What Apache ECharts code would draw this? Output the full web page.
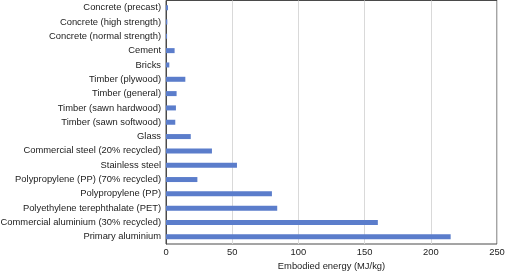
<!DOCTYPE html>
<html><head><meta charset="utf-8">
<script src="https://cdn.jsdelivr.net/npm/echarts@6/dist/echarts.min.js"></script>
<style>html,body{margin:0;padding:0;background:#fff}#c{width:506px;height:273px}</style>
</head><body><div id="c"></div>
<script>
const categories = [
  "Concrete (precast)",
  "Concrete (high strength)",
  "Concrete (normal strength)",
  "Cement",
  "Bricks",
  "Timber (plywood)",
  "Timber (general)",
  "Timber (sawn hardwood)",
  "Timber (sawn softwood)",
  "Glass",
  "Commercial steel (20% recycled)",
  "Stainless steel",
  "Polypropylene (PP) (70% recycled)",
  "Polypropylene (PP)",
  "Polyethylene terephthalate (PET)",
  "Commercial aluminium (30% recycled)",
  "Primary aluminium"
];
const energy = [1.5, 1.0, 0.8, 6.5, 2.5, 14.6, 8, 7.5, 7, 18.7, 34.7, 53.6, 23.7, 80, 84, 160, 215];
const xTicks = [0, 50, 100, 150, 200, 250];
const xName = "Embodied energy (MJ/kg)";

const chart = echarts.init(document.getElementById('c'), null, {renderer: 'canvas'});
chart.setOption({
  animation: false,
  grid: {left: 166, right: 9, top: 0.5, bottom: 29, show: true, borderColor: '#4a4a4a', borderWidth: 1,
         backgroundColor: 'transparent', containLabel: false, outerBoundsMode: 'none'},
  xAxis: {
    type: 'value', min: xTicks[0], max: xTicks[xTicks.length - 1], interval: 50,
    name: xName, nameLocation: 'middle', nameGap: 18,
    nameTextStyle: {fontFamily: 'Liberation Sans', fontSize: 9.4, color: '#222'},
    axisLine: {show: false}, axisTick: {show: false},
    axisLabel: {fontFamily: 'Liberation Sans', fontSize: 9.4, color: '#222', margin: 4},
    splitLine: {show: true, lineStyle: {color: '#d9d9d9', width: 1}}
  },
  yAxis: {
    type: 'category', data: categories, inverse: true,
    axisLine: {show: true, lineStyle: {color: '#4a4a4a'}}, axisTick: {show: false},
    axisLabel: {fontFamily: 'Liberation Sans', fontSize: 9.4, color: '#222', margin: 5},
    splitLine: {show: false}
  },
  series: [{
    type: 'bar', data: energy, barWidth: 5,
    itemStyle: {color: '#5b7dcb'}
  }]
});
</script></body></html>
